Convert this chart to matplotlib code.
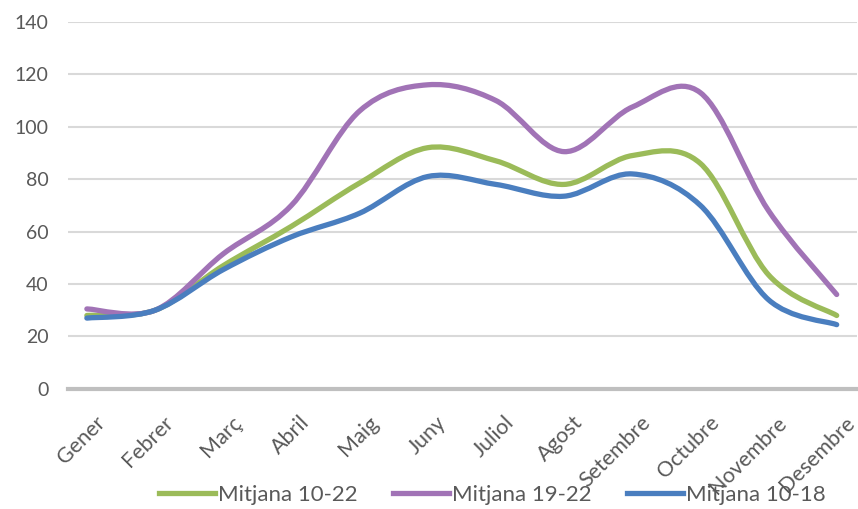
import matplotlib.pyplot as plt
import matplotlib.transforms as mtransforms
import numpy as np
from matplotlib.path import Path
from matplotlib.patches import PathPatch
from matplotlib.lines import Line2D

plt.rcParams["font.family"] = ["Lato", "DejaVu Sans"]

MONTHS = ["Gener", "Febrer", "Març", "Abril", "Maig", "Juny", "Juliol",
          "Agost", "Setembre", "Octubre", "Novembre", "Desembre"]

MITJANA_10_22 = [28, 30, 47, 62, 78.5, 92, 87, 78, 89, 86, 43.5, 28]
MITJANA_19_22 = [30.5, 30, 51.5, 70, 106, 116, 110, 90.5, 107.5, 113, 68, 36]
MITJANA_10_18 = [27, 30, 45.5, 58, 67, 81, 78, 73.5, 82, 70, 34, 24.5]

SERIES = [
    ("Mitjana 10-22", MITJANA_10_22, "#9BBB59"),
    ("Mitjana 19-22", MITJANA_19_22, "#A173B6"),
    ("Mitjana 10-18", MITJANA_10_18, "#4A7EBF"),
]


def smooth_path(xs, ys):
    # cubic bezier through every point, control points from neighbours
    pts = np.column_stack([xs, ys]).astype(float)
    n = len(pts)
    verts = [pts[0]]
    codes = [Path.MOVETO]
    for i in range(n - 1):
        p0 = pts[max(i - 1, 0)]
        p1 = pts[i]
        p2 = pts[i + 1]
        p3 = pts[min(i + 2, n - 1)]
        c1 = p1 + (p2 - p0) / 6
        c2 = p2 - (p3 - p1) / 6
        verts += [c1, c2, p2]
        codes += [Path.CURVE4] * 3
    return Path(verts, codes)


fig = plt.figure(figsize=(8.58, 5.09), dpi=100)
ax = fig.add_axes([0.079, 0.236, 0.92, 0.721])

x = np.arange(len(MONTHS))
for label, values, color in SERIES:
    patch = PathPatch(smooth_path(x, values), facecolor="none", edgecolor=color,
                      lw=3.8, capstyle="round", joinstyle="round", zorder=3)
    ax.add_patch(patch)

ax.set_xlim(-0.28, 11.3)
ax.set_ylim(0, 140)
ax.set_yticks(range(0, 141, 20))
ax.set_xticks(x)
ax.set_xticklabels(MONTHS, rotation=45, ha="right", va="top",
                   rotation_mode="anchor", fontsize=15.5)
ax.tick_params(axis="both", length=0, colors="#595959")
ax.tick_params(axis="y", pad=14, labelsize=14)
ax.tick_params(axis="x", pad=17)

# nudge the slanted month names a little to the right
shift = mtransforms.ScaledTranslation(6 / 72, 0, fig.dpi_scale_trans)
for lbl in ax.get_xticklabels():
    lbl.set_transform(lbl.get_transform() + shift)

ax.grid(axis="y", color="#D9D9D9", lw=1.5)
ax.set_axisbelow(True)
for side in ["top", "right", "left"]:
    ax.spines[side].set_visible(False)
ax.spines["bottom"].set_color("#BFBFBF")
ax.spines["bottom"].set_linewidth(3)

handles = [Line2D([], [], color=c, lw=3.8) for _, _, c in SERIES]
fig.legend(handles, [s[0] for s in SERIES], loc="center",
           bbox_to_anchor=(0.574, 0.027), ncol=3, frameon=False,
           fontsize=16, handlelength=2.5, columnspacing=1.6,
           handletextpad=0.15, labelcolor="#595959")

fig.savefig("out.png", dpi=100)
